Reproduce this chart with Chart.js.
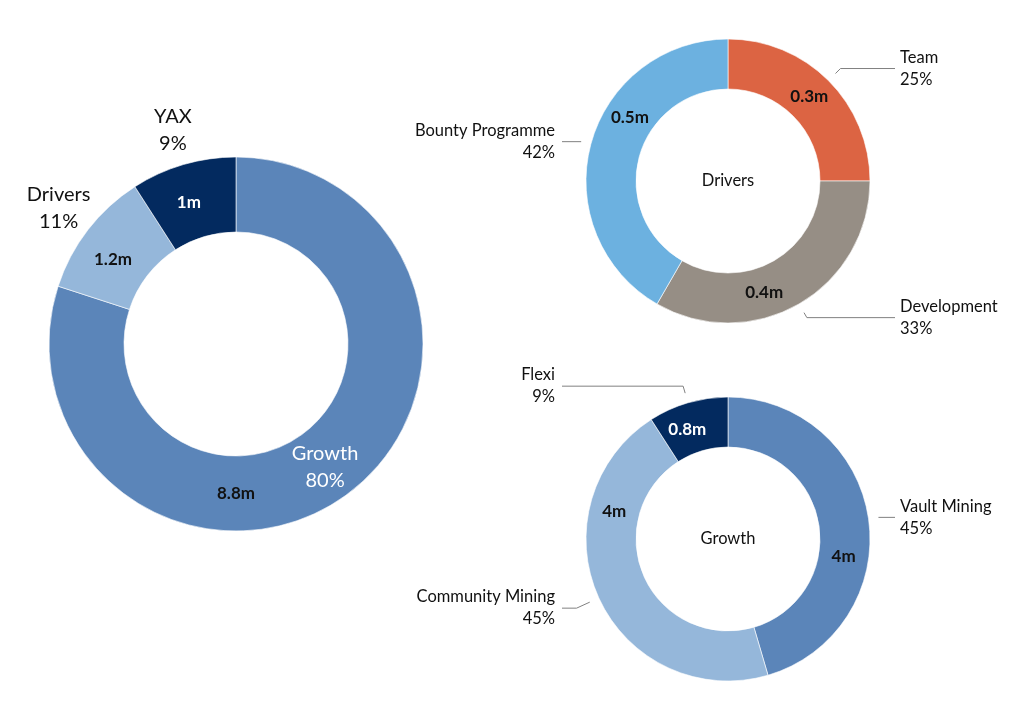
<!DOCTYPE html>
<html>
<head>
<meta charset="utf-8">
<script src="https://cdn.jsdelivr.net/npm/chart.js@4.4.1/dist/chart.umd.min.js"></script>
<style>
  html, body { margin: 0; padding: 0; background: #fff; overflow: hidden; }
  #wrap { position: relative; width: 1024px; height: 722px; }
  #wrap canvas { position: absolute; left: 0; top: 0; }
</style>
</head>
<body>
<div id="wrap">
  <canvas id="total" width="1024" height="722"></canvas>
  <canvas id="drivers" width="1024" height="722"></canvas>
  <canvas id="growth" width="1024" height="722"></canvas>
</div>
<script>
// split of the whole supply (millions)
const totalLabels = ['Growth', 'Drivers', 'YAX'];
const totalValues = [8.8, 1.2, 1];

// drivers breakdown
const driversLabels = ['Team', 'Development', 'Bounty Programme'];
const driversValues = [0.3, 0.4, 0.5];

// growth breakdown
const growthLabels = ['Vault Mining', 'Community Mining', 'Flexi'];
const growthValues = [4, 4, 0.8];

const blues = ['#5b85b9', '#95b7da', '#032a5f'];
const driverColors = ['#dc6443', '#968e85', '#6cb1e0'];

const FONT = 'Lato, "Noto Sans", sans-serif';
const deg = Math.PI / 180;

// draws the value / name / percent labels around each slice
const sliceLabels = {
  id: 'sliceLabels',
  afterDatasetsDraw(chart, args, opts) {
    const ctx = chart.ctx;
    const meta = chart.getDatasetMeta(0);
    const values = chart.data.datasets[0].data;
    const names = chart.data.labels;
    const total = values.reduce((a, b) => a + b, 0);
    ctx.save();
    ctx.textBaseline = 'middle';

    meta.data.forEach((arc, i) => {
      const p = arc.getProps(['x', 'y', 'startAngle', 'endAngle', 'innerRadius', 'outerRadius'], true);
      const mid = (p.startAngle + p.endAngle) / 2;
      const pct = Math.round(values[i] / total * 100) + '%';

      // value inside the ring
      const va = mid + (opts.valueShift[i] || 0) * deg;
      const vr = (p.innerRadius + p.outerRadius) / 2;
      ctx.font = 'bold 17px ' + FONT;
      ctx.textAlign = 'center';
      ctx.fillStyle = opts.valueColor[i];
      ctx.fillText(values[i] + 'm', p.x + Math.cos(va) * vr, p.y + Math.sin(va) * vr);

      if (opts.mode === 'free') {
        const inside = opts.inside[i];
        const r = inside ? (p.innerRadius + p.outerRadius) / 2 + 2 : p.outerRadius + 37;
        const cx = p.x + Math.cos(mid) * r;
        const cy = p.y + Math.sin(mid) * r;
        ctx.font = '20px ' + FONT;
        ctx.fillStyle = inside ? '#fff' : '#111';
        ctx.fillText(names[i], cx, cy - 13);
        ctx.fillText(pct, cx, cy + 14);
      } else {
        const sx = p.x + Math.cos(mid) * (p.outerRadius + 10);
        const sy = p.y + Math.sin(mid) * (p.outerRadius + 10);
        const right = Math.cos(mid) >= 0;
        const lineY = sy + (opts.lineDy[i] || 0);
        let t = 0;
        if (Math.abs(Math.sin(mid)) > 0.2) t = (lineY - sy) / Math.sin(mid);
        t = Math.max(0, Math.min(20, t));
        const ex = sx + Math.cos(mid) * t;
        const textX = right ? p.x + 172 : p.x - 173;
        const endX = right ? textX - 5 : textX + 7;
        ctx.strokeStyle = '#808080';
        ctx.lineWidth = 1;
        ctx.beginPath();
        ctx.moveTo(sx, sy);
        ctx.lineTo(ex, lineY);
        ctx.lineTo(endX, lineY);
        ctx.stroke();

        ctx.font = '16.5px ' + FONT;
        ctx.fillStyle = '#111';
        ctx.textAlign = right ? 'left' : 'right';
        ctx.fillText(names[i], textX, lineY - 11);
        ctx.fillText(pct, textX, lineY + 11);
      }
    });

    if (opts.centerText) {
      ctx.font = '16.5px ' + FONT;
      ctx.fillStyle = '#111';
      ctx.textAlign = 'center';
      ctx.fillText(opts.centerText, meta.data[0].x, meta.data[0].y);
    }
    ctx.restore();
  }
};

function makeDonut(id, labels, values, colors, center, radius, hole, labelOpts) {
  const W = 1024, H = 722;
  // chart area is symmetric around the wanted centre
  const half = Math.min(center.x, W - center.x, center.y, H - center.y);
  return new Chart(document.getElementById(id), {
    type: 'doughnut',
    data: {
      labels: labels,
      datasets: [{
        data: values,
        backgroundColor: colors,
        borderColor: 'rgba(255,255,255,0.6)',
        borderWidth: 1,
      }]
    },
    options: {
      responsive: false,
      animation: false,
      events: [],
      radius: radius,
      cutout: (hole / radius * 100) + '%',
      layout: {
        padding: {
          left: center.x - half,
          right: W - center.x - half,
          top: center.y - half,
          bottom: H - center.y - half,
        }
      },
      plugins: {
        legend: { display: false },
        tooltip: { enabled: false },
        sliceLabels: labelOpts,
      }
    },
    plugins: [sliceLabels]
  });
}

makeDonut('total', totalLabels, totalValues, blues, { x: 236, y: 344 }, 187, 112, {
  mode: 'free',
  inside: [true, false, false],
  valueShift: [36, -3, -2],
  valueColor: ['#111', '#111', '#fff'],
});

makeDonut('drivers', driversLabels, driversValues, driverColors, { x: 728, y: 181 }, 142, 92, {
  mode: 'leader',
  lineDy: [-5, 5, 0],
  valueShift: [-1, 12, 18],
  valueColor: ['#111', '#111', '#111'],
  centerText: 'Drivers',
});

makeDonut('growth', growthLabels, growthValues, blues, { x: 728, y: 539 }, 142, 92, {
  mode: 'leader',
  lineDy: [0, 6, -7],
  valueShift: [17, 38, -4],
  valueColor: ['#111', '#111', '#fff'],
  centerText: 'Growth',
});
</script>
</body>
</html>
